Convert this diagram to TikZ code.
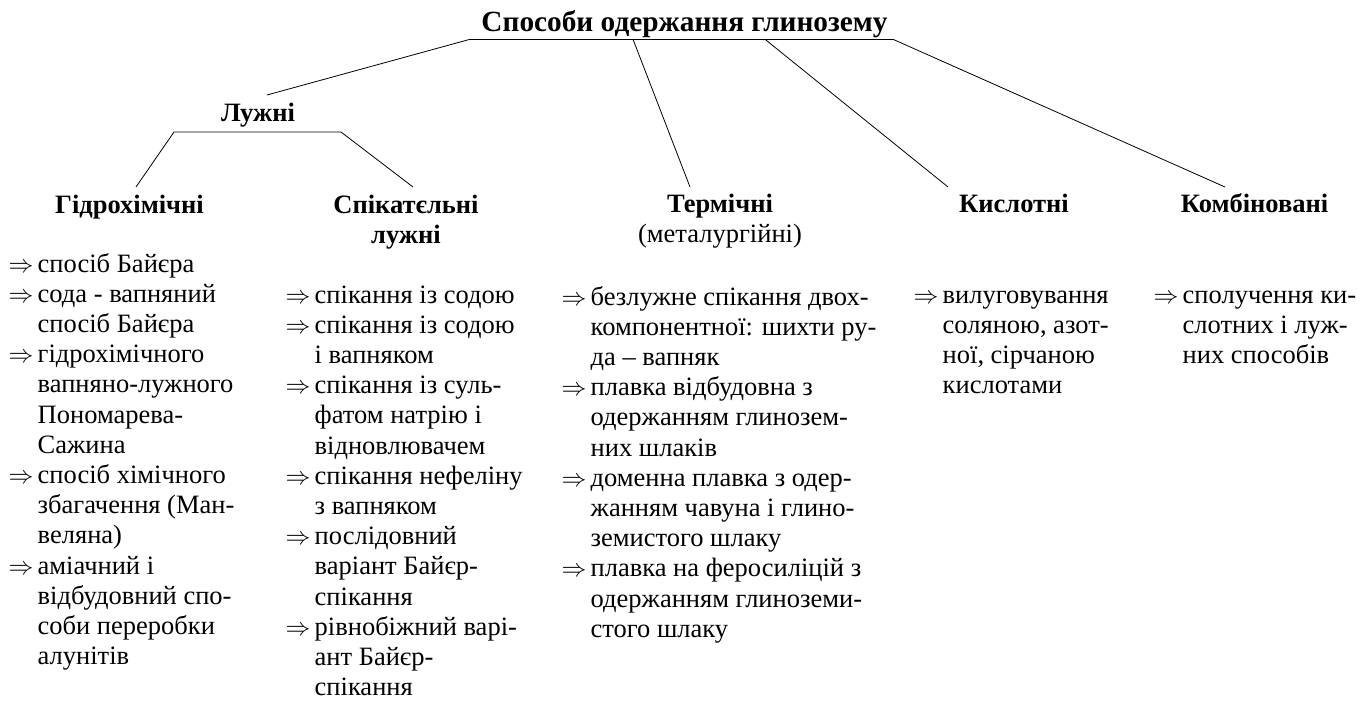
\documentclass[tikz,border=0pt]{standalone}
\usepackage{fontspec}
\setmainfont{Liberation Serif}
\newcommand{\myarrow}{\makebox[29pt][l]{$\Rightarrow$}}
\begin{document}
\begin{tikzpicture}[x=1pt,y=-1pt,
  conn/.style={line width=0.8pt},
  head/.style={font=\fontsize{26.5}{30.2}\selectfont\bfseries, inner sep=0pt, anchor=base},
  lst/.style={font=\fontsize{26.5}{30.2}\selectfont, inner sep=0pt, anchor=base west},
]
\useasboundingbox (0,0) rectangle (1367,704);

% headings
\node[head,font=\fontsize{29.3}{32}\selectfont\bfseries] (title) at (684.5,31.5) {Способи одержання глинозему};
\node[head] (luzh) at (258,121) {Лужні};
\node[head] (hydro) at (129.5,213) {Гідрохімічні};
\node[head] (spik) at (406,213) {\begin{tabular}[t]{@{}c@{}}Спікатєльні\\лужні\end{tabular}};
\node[head] (term) at (720,212) {\begin{tabular}[t]{@{}c@{}}Термічні\\\mdseries(металургійні)\end{tabular}};
\node[head] (kysl) at (1014,212) {Кислотні};
\node[head] (komb) at (1254.5,212) {Комбіновані};

% connector points
\coordinate (t1) at (470,39.3);
\coordinate (t2) at (633,39.3);
\coordinate (t3) at (765,39.3);
\coordinate (t4) at (893,39.3);
\coordinate (l0) at (267,95);
\coordinate (b1) at (136,187);
\coordinate (b2) at (174,132);
\coordinate (b3) at (341,132);
\coordinate (b4) at (413,187);
\coordinate (e2) at (690,187);
\coordinate (e3) at (948,187);
\coordinate (e4) at (1225,187);

\draw[conn] (t1) -- (t4);
\draw[conn] (t1) -- (l0);
\draw[conn] (t2) -- (e2);
\draw[conn] (t3) -- (e3);
\draw[conn] (t4) -- (e4);
\draw[conn] (b1) -- (b2) -- (b3) -- (b4);

% lists
\node[lst] (list1) at (8.5,272) {\begin{tabular}[t]{@{}l@{}l@{}}
\myarrow & спосіб Байєра\\
\myarrow & сода - вапняний\\
 & спосіб Байєра\\
\myarrow & гідрохімічного\\
 & вапняно-лужного\\
 & Пономарева-\\
 & Сажина\\
\myarrow & спосіб хімічного\\
 & збагачення (Ман-\\
 & веляна)\\
\myarrow & аміачний і\\
 & відбудовний спо-\\
 & соби переробки\\
 & алунітів
\end{tabular}};

\node[lst] (list2) at (285.5,303) {\begin{tabular}[t]{@{}l@{}l@{}}
\myarrow & спікання із содою\\
\myarrow & спікання із содою\\
 & і вапняком\\
\myarrow & спікання із суль-\\
 & фатом натрію і\\
 & відновлювачем\\
\myarrow & спікання нефеліну\\
 & з вапняком\\
\myarrow & послідовний\\
 & варіант Байєр-\\
 & спікання\\
\myarrow & рівнобіжний варі-\\
 & ант Байєр-\\
 & спікання
\end{tabular}};

\node[lst] (list3) at (561.5,305) {\begin{tabular}[t]{@{}l@{}l@{}}
\myarrow & безлужне спікання двох-\\
 & компонентної: шихти ру-\\
 & да – вапняк\\
\myarrow & плавка відбудовна з\\
 & одержанням глинозем-\\
 & них шлаків\\
\myarrow & доменна плавка з одер-\\
 & жанням чавуна і глино-\\
 & земистого шлаку\\
\myarrow & плавка на феросиліцій з\\
 & одержанням глиноземи-\\
 & стого шлаку
\end{tabular}};

\node[lst] (list4) at (913.5,303) {\begin{tabular}[t]{@{}l@{}l@{}}
\myarrow & вилуговування\\
 & соляною, азот-\\
 & ної, сірчаною\\
 & кислотами
\end{tabular}};

\node[lst] (list5) at (1153.5,303) {\begin{tabular}[t]{@{}l@{}l@{}}
\myarrow & сполучення ки-\\
 & слотних і луж-\\
 & них способів
\end{tabular}};
\end{tikzpicture}
\end{document}
